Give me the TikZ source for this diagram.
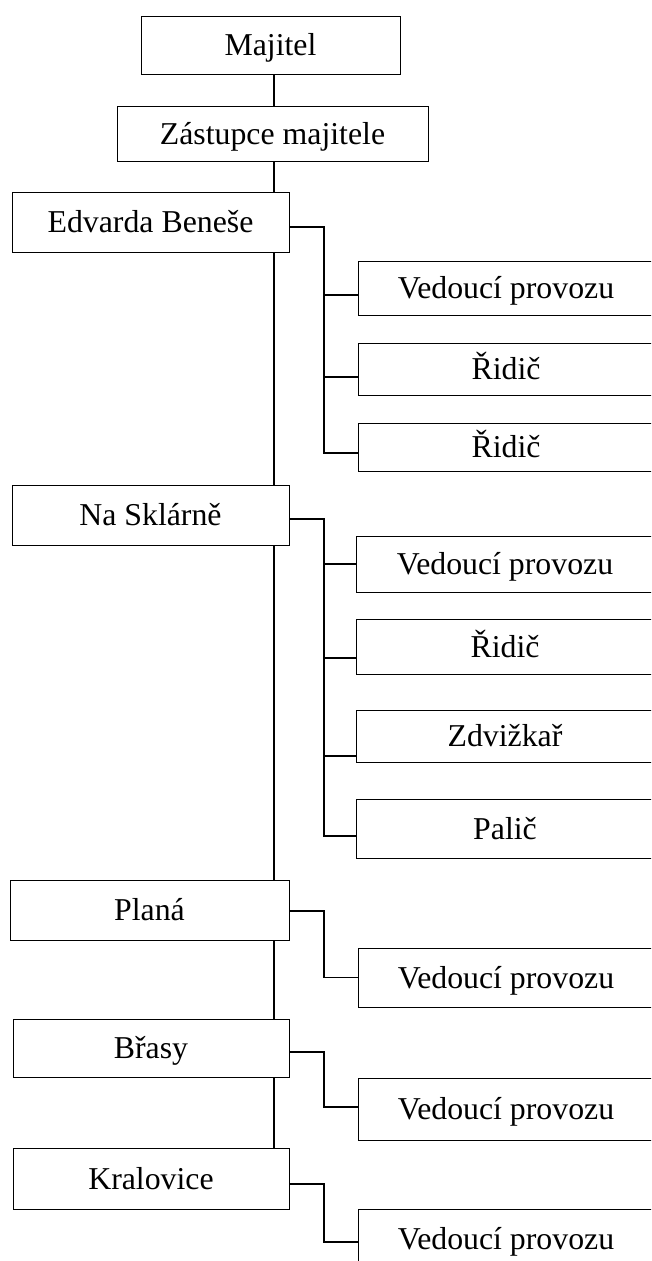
\documentclass[tikz,border=0pt]{standalone}
\usepackage{fontspec}
\setmainfont{Liberation Serif}
\begin{document}
\begin{tikzpicture}[x=1pt,y=-1pt,
  orgbox/.style={draw, line width=1pt, inner sep=0pt, text height=21pt, text depth=0pt,
    font=\fontsize{31.8}{38}\selectfont},
  leftbox/.style={orgbox, minimum width=277pt},
  rightbox/.style={orgbox, minimum width=296pt},
  conn/.style={line width=1.6pt},
  spineline/.style={line width=1.2pt}]
\useasboundingbox (0,0) rectangle (651,1261);
\clip (0,0) rectangle (651,1261);
\fill[white] (0,0) rectangle (651,1261);
\coordinate (spine) at (274,0);
\coordinate (bx) at (324,0);
% top boxes
\node[orgbox, minimum width=259pt, minimum height=58pt] (maj) at (270.5,45) {Majitel};
\node[orgbox, minimum width=311pt, minimum height=55pt] (zas) at (272.5,133.5) {Zástupce majitele};
% branch boxes
\node[leftbox, minimum height=60pt] (edv) at (150.5,222) {Edvarda Beneše};
\node[leftbox, minimum height=60pt] (nas) at (150.5,515) {Na Sklárně\hspace{18pt}};
\node[leftbox, minimum width=279pt, minimum height=60pt] (pla) at (149.5,910) {Planá};
\node[leftbox, minimum width=276pt, minimum height=58pt] (bra) at (151,1048) {Břasy};
\node[leftbox, minimum width=276pt, minimum height=61pt] (kra) at (151,1178.5) {Kralovice};
% staff boxes
\node[rightbox, minimum height=54pt] (v1) at (506,288) {Vedoucí provozu};
\node[rightbox, minimum height=52pt] (r1) at (506,369) {Řidič};
\node[rightbox, minimum height=48pt] (r2) at (506,447) {Řidič};
\node[rightbox, minimum width=298pt, minimum height=56pt] (v2) at (505,564) {Vedoucí provozu};
\node[rightbox, minimum width=298pt, minimum height=55pt] (r3) at (505,646.5) {Řidič};
\node[rightbox, minimum width=298pt, minimum height=52pt] (zd) at (505,736) {Zdvižkař};
\node[rightbox, minimum width=298pt, minimum height=59pt] (pa) at (505,828.5) {Palič};
\node[rightbox, minimum height=59pt] (v3) at (506,977.5) {Vedoucí provozu};
\node[rightbox, minimum height=62pt] (v4) at (506,1109) {Vedoucí provozu};
\node[rightbox, minimum height=59pt] (v5) at (506,1238.5) {Vedoucí provozu};
% spine
\draw[spineline] (maj.south -| spine) -- (zas.north -| spine);
\draw[spineline] (zas.south -| spine) -- (edv.north -| spine);
\draw[spineline] (edv.south -| spine) -- (nas.north -| spine);
\draw[spineline] (nas.south -| spine) -- (pla.north -| spine);
\draw[spineline] (pla.south -| spine) -- (bra.north -| spine);
\draw[spineline] (bra.south -| spine) -- (kra.north -| spine);
% Edvarda Beneše group
\draw[conn] ([yshift=-5pt]edv.east) -| ([yshift=-6pt]r2.west -| bx) -- ([yshift=-6pt]r2.west);
\draw[conn] ([yshift=-7pt]v1.west -| bx) -- ([yshift=-7pt]v1.west);
\draw[conn] ([yshift=-8pt]r1.west -| bx) -- ([yshift=-8pt]r1.west);
% Na Sklárně group
\draw[conn] ([yshift=-4pt]nas.east) -| ([yshift=-7.5pt]pa.west -| bx) -- ([yshift=-7.5pt]pa.west);
\draw[conn] (v2.west -| bx) -- (v2.west);
\draw[conn] ([yshift=-11.5pt]r3.west -| bx) -- ([yshift=-11.5pt]r3.west);
\draw[conn] ([yshift=-20pt]zd.west -| bx) -- ([yshift=-20pt]zd.west);
% single groups
\draw[conn] ([yshift=-1pt]pla.east) -| (v3.west -| bx) -- (v3.west);
\draw[conn] ([yshift=-4pt]bra.east) -| ([yshift=2pt]v4.west -| bx) -- ([yshift=2pt]v4.west);
\draw[conn] ([yshift=-5.5pt]kra.east) -| ([yshift=-3.5pt]v5.west -| bx) -- ([yshift=-3.5pt]v5.west);
\end{tikzpicture}
\end{document}
